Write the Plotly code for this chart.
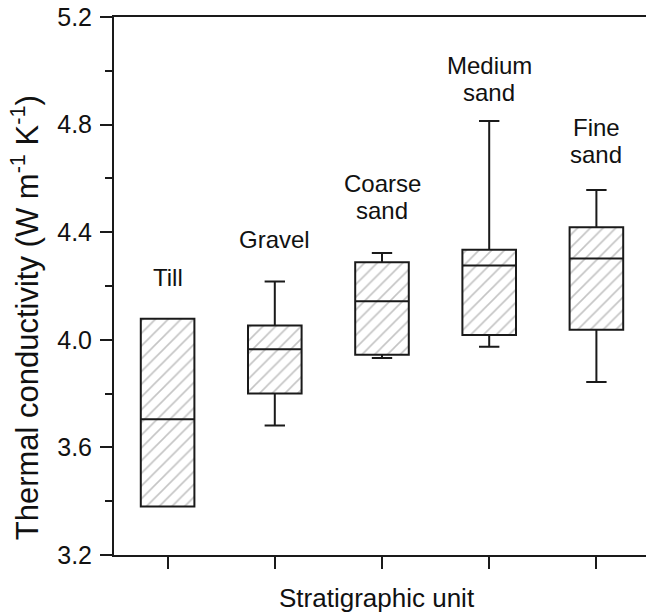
import plotly.graph_objects as go

units = ["Till", "Gravel", "Coarse<br>sand", "Medium<br>sand", "Fine<br>sand"]
q1 = [3.38, 3.80, 3.944, 4.018, 4.037]
median = [3.705, 3.965, 4.143, 4.276, 4.302]
q3 = [4.078, 4.053, 4.288, 4.335, 4.418]
lower = [3.38, 3.681, 3.932, 3.974, 3.843]
upper = [4.078, 4.217, 4.323, 4.813, 4.557]
label_y = [4.23, 4.372, 4.531, 4.970, 4.739]

xpos = list(range(len(units)))
FONT = "Liberation Sans, Arial, sans-serif"

fig = go.Figure()

# hatched box fill
fig.add_trace(go.Bar(
    x=xpos, y=[b - a for a, b in zip(q1, q3)], base=q1, width=0.5,
    marker=dict(color="white", line=dict(width=0),
                pattern=dict(shape="/", fgcolor="#8a8a8a", bgcolor="white",
                             size=9, solidity=0.18)),
    hoverinfo="skip", showlegend=False,
))

# box outlines, medians, whiskers
fig.add_trace(go.Box(
    x=xpos, q1=q1, median=median, q3=q3, lowerfence=lower, upperfence=upper,
    width=0.5, whiskerwidth=0.38, fillcolor="rgba(0,0,0,0)",
    line=dict(color="#1a1a1a", width=2), boxpoints=False, showlegend=False,
))

LINE_GAP = 27
for i, t in enumerate(units):
    lines = t.split("<br>")
    n = len(lines)
    for k, ln in enumerate(lines):
        fig.add_annotation(x=i, y=label_y[i], text=ln, showarrow=False,
                           xanchor="center", yanchor="middle",
                           yshift=((n - 1) / 2 - k) * LINE_GAP,
                           font=dict(family=FONT, size=24, color="#111"))

# y-axis title
fig.add_annotation(xref="paper", yref="paper", x=0, y=0.44, xshift=-89,
                   text="Thermal conductivity (W m<sup>-1</sup> K<sup>-1</sup>)",
                   textangle=-90, showarrow=False, xanchor="center", yanchor="middle",
                   font=dict(family=FONT, size=31, color="#111"))

# x-axis title
fig.add_annotation(xref="paper", yref="paper", x=0.5, y=0, xshift=-5, yshift=-43,
                   text="Stratigraphic unit", showarrow=False,
                   xanchor="center", yanchor="middle",
                   font=dict(family=FONT, size=26, color="#111"))

fig.update_layout(
    width=646, height=606,
    margin=dict(l=106, r=4, t=9, b=59, autoexpand=False),
    paper_bgcolor="white", plot_bgcolor="white",
    barmode="overlay",
    font=dict(family=FONT, color="#111"),
)
fig.update_xaxes(
    range=[-0.5, 4.5], tickvals=xpos, ticktext=[""] * 5,
    ticks="outside", ticklen=12, tickwidth=2, tickcolor="#1a1a1a",
    showline=True, linecolor="#1a1a1a", linewidth=2, mirror=True,
    showgrid=False, zeroline=False,
)
fig.update_yaxes(
    range=[3.2, 5.2], tick0=3.2, dtick=0.4, tickformat=".1f",
    ticks="outside", ticklen=12, tickwidth=2, tickcolor="#1a1a1a",
    tickfont=dict(family=FONT, size=25, color="#111"),
    ticklabelstandoff=3, ticklabeloverflow="allow",
    minor=dict(ticks="outside", ticklen=7, tickwidth=2, tickcolor="#1a1a1a",
               tick0=3.2, dtick=0.2),
    showline=True, linecolor="#1a1a1a", linewidth=2, mirror=True,
    showgrid=False, zeroline=False,
)

fig.write_html("out.html")
